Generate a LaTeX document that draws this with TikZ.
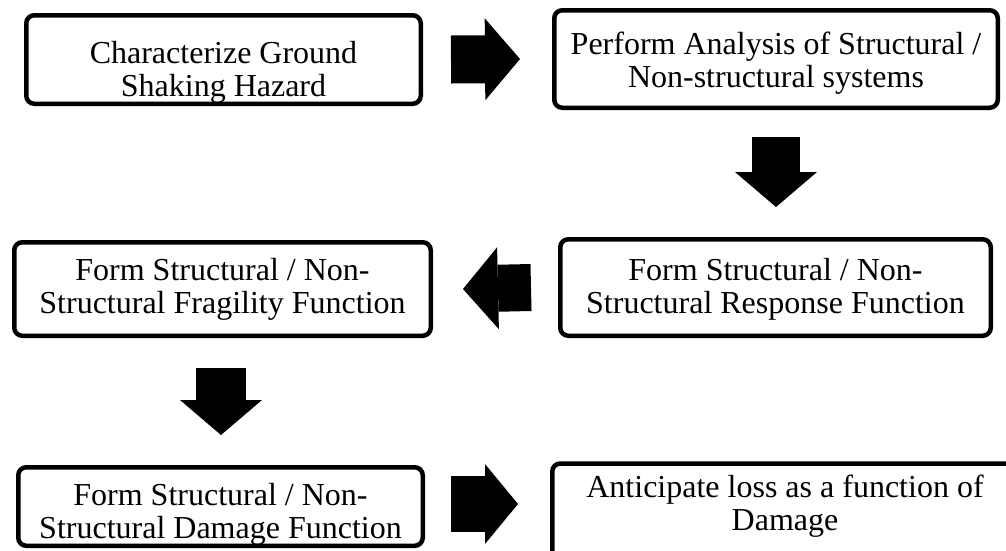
\documentclass[tikz,border=0pt]{standalone}
\usepackage{fontspec}
\setmainfont{Liberation Serif}
\usetikzlibrary{calc}
\usetikzlibrary{arrows.meta}

\tikzset{
 stage/.style={draw, line width=4.5pt, rounded corners=8pt, align=center, inner sep=0pt,
   font=\fontsize{32}{33}\selectfont, text height=56pt, text depth=7pt},
 flow/.style={line width=48pt, -{Triangle[width=82pt,length=35pt,line width=0pt]}}
}

\begin{document}
\begin{tikzpicture}[x=1pt, y=-1pt]
\useasboundingbox (0,0) rectangle (1006,550);
% the six steps
\node[stage, minimum width=394.5pt, minimum height=88.5pt, text height=73pt, text depth=0pt] (hazard) at (223.5,59.5) {Characterize Ground\\Shaking Hazard};
\node[stage, minimum width=443.5pt, minimum height=97.5pt, text depth=0pt] (analysis) at (776,59) {Perform Analysis of Structural /\\Non-structural systems};
\node[stage, minimum width=430.5pt, minimum height=96.5pt, text height=58pt] (response) at (775.5,287.5) {Form Structural / Non-\\Structural Response Function};
\node[stage, minimum width=416.5pt, minimum height=93.5pt, text height=55pt] (fragility) at (222.5,289) {Form Structural / Non-\\Structural Fragility Function};
\node[stage, minimum width=404.5pt, minimum height=78.5pt, text height=63pt, text depth=0pt] (damage) at (220.5,506.5) {Form Structural / Non-\\Structural Damage Function};
\node[stage, minimum width=465.5pt, minimum height=96pt, text height=44pt] (loss) at (785,511.5) {Anticipate loss as a function of\\Damage};
% block arrows
\draw[flow] ($(hazard.east)+(28,0)$) -- ($(analysis.west)+(-32,0)$);
\draw[flow] ($(analysis.south)+(0,27)$) -- ($(analysis.south |- response.north)+(0,-30)$);
\draw[flow, line width=47pt] ($(response.west)+(-27,0)$) -- ($(fragility.east)+(30,0)$);
\draw[flow, line width=50pt] ($(fragility.south)+(-1.5,30)$) -- ($(fragility.south |- damage.north)+(-1.5,-30)$);
\draw[flow, line width=56pt, -{Triangle[width=80pt,length=33pt,line width=0pt]}] ($(damage.east)+(26,-2.5)$) -- ($(loss.west |- damage.east)+(-32,-2.5)$);
\end{tikzpicture}
\end{document}
